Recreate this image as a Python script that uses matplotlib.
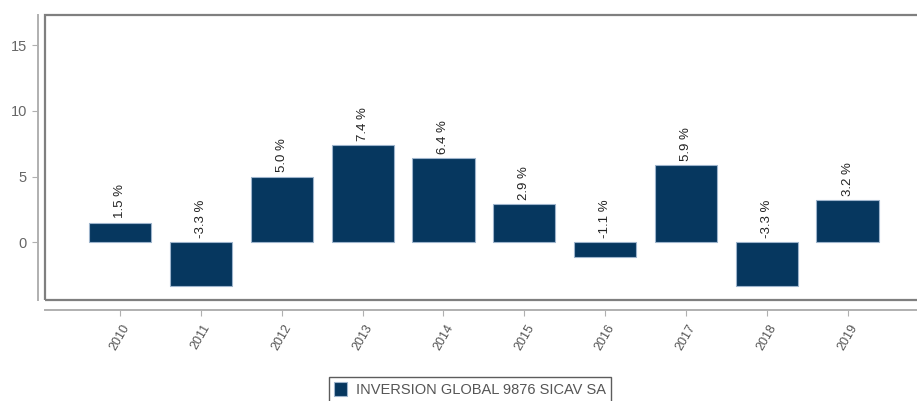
import matplotlib.pyplot as plt
from matplotlib.patches import Rectangle

years = ["2010", "2011", "2012", "2013", "2014", "2015", "2016", "2017", "2018", "2019"]
returns = [1.5, -3.3, 5.0, 7.4, 6.4, 2.9, -1.1, 5.9, -3.3, 3.2]
series_name = "INVERSION GLOBAL 9876 SICAV SA"
yticks = [0, 5, 10, 15]

BAR_COLOR = "#06375f"
GRAY = "#7f7f7f"

plt.rcParams["font.family"] = ["Liberation Sans", "DejaVu Sans"]

fig = plt.figure(figsize=(9.17, 4.01), dpi=100)
W, H = 917, 401
# axes box runs off the right edge of the picture, like the original
ax = fig.add_axes([45 / W, (H - 300) / H, 885 / W, 285 / H])

x = list(range(len(years)))
ax.bar(x, returns, width=0.77, color=BAR_COLOR, edgecolor="#9db4cc",
       linewidth=0.8, label=series_name, zorder=2)

for xi, v in zip(x, returns):
    ax.annotate(f"{v:.1f} %", (xi, max(v, 0)), xytext=(0, 3),
                textcoords="offset points", rotation=90, ha="center",
                va="bottom", fontsize=9.5, color="#222222")

ax.set_xlim(-0.93, 10.02)
ax.set_ylim(-4.4, 17.3)

# box around plot
ax.add_patch(Rectangle((0, 0), 1, 1, transform=ax.transAxes, fill=False,
                       edgecolor=GRAY, linewidth=1.6, clip_on=False, zorder=3))

# detached axis lines (R style), offsets in points
for side in ["top", "right"]:
    ax.spines[side].set_visible(False)
ax.spines["left"].set_position(("outward", 5))
ax.spines["bottom"].set_position(("outward", 7.2))
for side in ["left", "bottom"]:
    ax.spines[side].set_color("#b0b0b0")
    ax.spines[side].set_linewidth(1.4)

ax.set_yticks(yticks)
ax.set_xticks(x)
ax.set_xticklabels(years, rotation=60, ha="center", va="top")
ax.tick_params(axis="y", colors="#b0b0b0", labelcolor="#666666",
               labelsize=10.5, length=4, pad=4)
ax.tick_params(axis="x", colors="#b0b0b0", labelcolor="#555555",
               labelsize=9, length=4, pad=5)

leg = fig.legend(loc="upper center", bbox_to_anchor=(470 / W, 1 - 377 / H),
                 borderaxespad=0, frameon=True, fancybox=False, fontsize=10.5,
                 handlelength=0.9, handleheight=1.1, borderpad=0.35,
                 handletextpad=0.6)
leg.get_frame().set_edgecolor("#333333")
leg.get_frame().set_linewidth(1.0)
for t in leg.get_texts():
    t.set_color("#555555")

fig.savefig("out.png", dpi=100)
